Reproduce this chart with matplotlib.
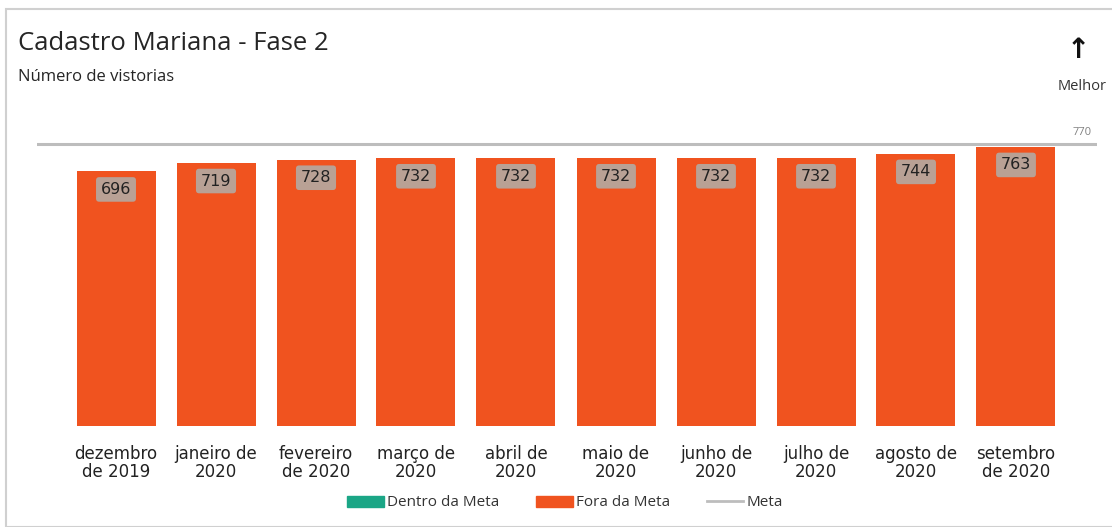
import matplotlib.pyplot as plt
import matplotlib.patches as mpatches
from matplotlib.lines import Line2D
import numpy as np

meses = ['dezembro\nde 2019', 'janeiro de\n2020', 'fevereiro\nde 2020', 'março de\n2020',
         'abril de\n2020', 'maio de\n2020', 'junho de\n2020', 'julho de\n2020',
         'agosto de\n2020', 'setembro\nde 2020']
vistorias = [696, 719, 728, 732, 732, 732, 732, 732, 744, 763]
meta = 770

laranja = '#F0531F'
verde = '#1BA686'
cinza = '#BDBDBD'

W, H = 1112, 527
fig = plt.figure(figsize=(W / 100, H / 100), dpi=100)
ax = fig.add_axes([37 / W, (H - 426) / H, (1097 - 37) / W, (426 - 133.4) / H])

x = np.arange(len(vistorias))
bars = ax.bar(x, vistorias, width=0.79, color=laranja)
ax.axhline(meta, color=cinza, lw=2.2, zorder=3)
ax.text(0.995, meta + 18, str(meta), transform=ax.get_yaxis_transform(), ha='right', va='bottom',
        fontsize=8, color='#808080', family='Open Sans')

for xi, v in zip(x, vistorias):
    ax.annotate(str(v), (xi, v), xytext=(0, -18), textcoords='offset pixels',
                ha='center', va='center', fontsize=11.5, color='#222222', family='DejaVu Sans',
                bbox=dict(boxstyle='round,pad=0.3,rounding_size=0.2', fc='#B9A195', ec='none'))

ax.set_xlim(-0.79, 9.81)
ax.set_ylim(0, 800)
ax.set_xticks(x)
ax.set_xticklabels(meses, fontsize=12, color='#222222', linespacing=1.0, family='DejaVu Sans')
ax.tick_params(axis='x', length=0, pad=14)
ax.set_yticks([])
for s in ax.spines.values():
    s.set_visible(False)

fig.text(18 / W, 1 - 43 / H, 'Cadastro Mariana - Fase 2', fontsize=18.5, family='Open Sans',
         color='#252525', va='center', ha='left')
fig.text(18 / W, 1 - 77 / H, 'Número de vistorias', fontsize=12, family='Open Sans',
         color='#252525', va='center', ha='left')
fig.text(1078 / W, 1 - 50 / H, '↑', fontsize=20, color='#111111', ha='center', va='center',
         family='DejaVu Sans', fontweight='bold')
fig.text(1082 / W, 1 - 87 / H, 'Melhor', fontsize=10.5, color='#333333', ha='center', va='center',
         family='Open Sans')

fig.patches.append(mpatches.Rectangle((6 / W, 0), 1.2, 1 - 9 / H, transform=fig.transFigure,
                                      fill=False, ec='#D0D0D0', lw=1.5))

handles = [mpatches.Patch(color=verde, label='Dentro da Meta'),
           mpatches.Patch(color=laranja, label='Fora da Meta'),
           Line2D([0], [0], color=cinza, lw=2, label='Meta')]
fig.legend(handles=handles, loc='center', bbox_to_anchor=(565 / W, 1 - 503 / H), ncol=3,
           frameon=False, prop={'family': 'Open Sans', 'size': 11}, handlelength=2.4,
           handleheight=0.7, handletextpad=0.2, columnspacing=2.4, labelcolor='#333333')

fig.savefig('out.png', dpi=100)
